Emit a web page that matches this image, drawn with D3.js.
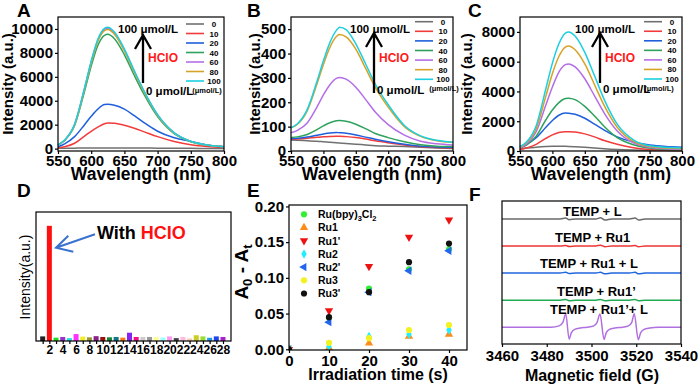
<!DOCTYPE html>
<html>
<head>
<meta charset="utf-8">
<script src="https://cdn.jsdelivr.net/npm/d3@7"></script>
<style>
body { margin: 0; background: #fff; }
svg { display: block; font-family: "Liberation Sans", Arial, sans-serif; }
</style>
</head>
<body>
<svg id="fig" width="700" height="388"></svg>
<script>
// ---------- data ----------
let wavelengths = [550, 560, 575, 590, 600, 610, 620, 625, 635, 650, 665, 680, 700, 725, 750, 775, 800];
let wlTicks = [550, 600, 650, 700, 750, 800];
let concLabels = ["0", "10", "20", "40", "60", "80", "100"];
let concColors = ["#707070", "#f23b3b", "#1f5fdc", "#2ea25c", "#b46ee6", "#d6a227", "#1ccfe0"];

// panel A, one row per HClO concentration
let spectraA = [
    [20, 30, 40, 50, 55, 60, 60, 60, 60, 55, 50, 45, 40, 30, 20, 15, 10],
    [50, 150, 450, 1050, 1450, 1800, 2080, 2150, 2120, 1950, 1700, 1400, 1000, 600, 330, 180, 100],
    [150, 400, 1000, 2000, 2700, 3300, 3680, 3700, 3620, 3300, 2750, 2150, 1450, 900, 600, 300, 150],
    [300, 690, 1930, 4800, 6900, 8620, 9470, 9550, 9180, 7840, 6110, 4490, 2680, 1250, 580, 290, 150],
    [295, 705, 2010, 5030, 7240, 9050, 9950, 10050, 9650, 8240, 6430, 4720, 2810, 1310, 605, 300, 150],
    [290, 700, 1990, 4980, 7160, 8960, 9850, 9950, 9550, 8160, 6370, 4680, 2790, 1290, 600, 300, 150],
    [300, 710, 2030, 5080, 7310, 9140, 10050, 10150, 9740, 8320, 6500, 4770, 2840, 1320, 610, 300, 150]
];
let ticksA = [0, 2000, 4000, 6000, 8000, 10000];

// panel B
let spectraB = [
    [45, 44, 42, 40, 38, 36, 34, 33, 31, 28, 25, 22, 20, 18, 15, 12, 10],
    [48, 49, 52, 56, 58, 60, 61, 61, 59, 55, 49, 42, 34, 25, 18, 14, 12],
    [50, 52, 57, 65, 70, 74, 76, 75, 73, 66, 57, 48, 38, 28, 20, 16, 14],
    [55, 58, 68, 88, 103, 116, 124, 125, 122, 110, 92, 72, 55, 38, 26, 20, 18],
    [75, 85, 115, 180, 230, 272, 298, 302, 295, 262, 212, 160, 108, 65, 40, 30, 25],
    [95, 110, 165, 275, 355, 425, 470, 478, 468, 418, 340, 262, 180, 100, 60, 42, 35],
    [95, 112, 170, 285, 370, 445, 495, 508, 498, 440, 358, 275, 190, 105, 62, 44, 36]
];
let ticksB = [0, 100, 200, 300, 400, 500];

// panel C
let spectraC = [
    [150, 200, 260, 300, 315, 320, 315, 310, 290, 250, 200, 150, 100, 60, 40, 30, 20],
    [100, 200, 450, 850, 1080, 1240, 1300, 1300, 1270, 1150, 950, 700, 450, 220, 100, 50, 30],
    [250, 450, 900, 1600, 2050, 2400, 2550, 2540, 2470, 2200, 1800, 1400, 950, 600, 400, 300, 250],
    [200, 400, 1000, 2100, 2750, 3250, 3530, 3550, 3450, 3000, 2350, 1650, 900, 420, 200, 100, 60],
    [200, 450, 1300, 3100, 4300, 5300, 5800, 5850, 5650, 4850, 3700, 2550, 1350, 550, 250, 150, 100],
    [250, 550, 1500, 3700, 5200, 6350, 6980, 7050, 6800, 5850, 4450, 3050, 1600, 650, 300, 200, 150],
    [300, 600, 1700, 4200, 5900, 7200, 7920, 8000, 7720, 6620, 5050, 3450, 1800, 750, 350, 250, 200]
];
let ticksC = [0, 2000, 4000, 6000, 8000];

// panel D, relative intensity of the 28 analytes (2 = with HClO)
let barValues = [0.04, 1.0, 0.029, 0.035, 0.025, 0.06, 0.038, 0.032, 0.042, 0.035, 0.032, 0.035, 0.029, 0.072,
    0.035, 0.035, 0.035, 0.035, 0.03, 0.04, 0.025, 0.035, 0.022, 0.05, 0.04, 0.028, 0.04, 0.035];
let barColors = ["#222222", "#ff1010", "#22dd22", "#9933cc", "#22ddee", "#ff33ff", "#eeee22", "#999933", "#882288",
    "#991111", "#118833", "#117788", "#ff7711", "#8822ee", "#ee1188", "#cccccc", "#999999", "#ffff99", "#99ffff",
    "#ff99ee", "#444444", "#ffbbdd", "#ffccaa", "#cccc22", "#99dd33", "#2299ee", "#2244ee", "#aa22cc"];
let barTickLabels = [2, 4, 6, 8, 10, 12, 14, 16, 18, 20, 22, 24, 26, 28];

// panel E
let times = [0, 10, 20, 30, 40];
let seriesNames = ["Ru(bpy)3Cl2", "Ru1", "Ru1'", "Ru2", "Ru2'", "Ru3", "Ru3'"];
let ruBpy = [0, 0.044, 0.085, 0.112, 0.140];
let ru1 = [0, 0.002, 0.0085, 0.018, 0.021];
let ru1p = [0, 0.054, 0.116, 0.157, 0.181];
let ru2 = [0, 0.004, 0.018, 0.021, 0.027];
let ru2p = [0, 0.038, 0.080, 0.110, 0.138];
let ru3 = [0, 0.009, 0.0155, 0.027, 0.034];
let ru3p = [0, 0.045, 0.080, 0.122, 0.148];
let seriesColors = ["#33ee33", "#ff8c1a", "#ee1111", "#22eeff", "#2266ee", "#f2f222", "#111111"];
let timeTicks = [0, 10, 20, 30, 40];
let eTicks = [0, 0.05, 0.10, 0.15, 0.20];

// panel F, EPR traces (field in G, amplitude in stack units)
let fieldWeak = [3460, 3486, 3488.5, 3490, 3493, 3502, 3504, 3506, 3509, 3517, 3519.5, 3521, 3524, 3540];
let ampGray = [0, 0, 0.03, -0.03, 0, 0, 0.04, -0.04, 0, 0, 0.03, -0.04, 0, 0];
let ampRed = [0, 0, 0.02, -0.02, 0, 0, 0.03, -0.03, 0, 0, 0.02, -0.03, 0, 0];
let ampBlue = [0, 0, 0.03, -0.02, 0, 0, 0.03, -0.03, 0, 0, 0.03, -0.03, 0, 0];
let ampGreen = [0, 0, 0.02, -0.02, 0, 0, 0.02, -0.02, 0, 0, 0.02, -0.02, 0, 0];
let fieldPurple = [3460, 3482, 3485.5, 3487.2, 3488.5, 3490, 3491, 3492.5, 3495, 3498, 3501, 3502.5, 3503.8, 3505.6,
    3506.6, 3508, 3510.5, 3514, 3516.5, 3518, 3519.1, 3520.9, 3522, 3523.5, 3526, 3530, 3540];
let ampPurple = [0, 0, 0.05, 0.18, 0.49, -0.44, -0.2, -0.08, -0.03, 0, 0.05, 0.18, 0.49, -0.45, -0.2, -0.08, -0.03,
    0, 0.05, 0.18, 0.5, -0.46, -0.2, -0.08, -0.03, 0, 0];
let eprLabels = ["TEMP + L", "TEMP + Ru1", "TEMP + Ru1 + L", "TEMP + Ru1\u2019", "TEMP + Ru1\u2019+ L"];
let eprLevels = [4, 3, 2, 1, 0];
let eprColors = ["#6a6a6a", "#ee3535", "#2266dd", "#22aa55", "#b070e0"];
let fieldTicks = [3460, 3480, 3500, 3520, 3540];

// ---------- drawing ----------
let svg = d3.select("#fig");
let plain = d3.format("d");

function frame(x0, y0, x1, y1) {
    svg.append("rect")
        .attr("x", x0).attr("y", y0)
        .attr("width", x1 - x0).attr("height", y1 - y0)
        .attr("fill", "none").attr("stroke", "#000").attr("stroke-width", 1.2);
}

function styleAxis(g, size) {
    g.select(".domain").remove();
    g.attr("font-family", null).attr("font-size", null);
    g.selectAll("line").attr("stroke", "#000").attr("stroke-width", 1.2);
    g.selectAll("text").attr("font-size", size).attr("font-weight", "bold").attr("fill", "#000");
}

function label(txt, x, y, size, opts) {
    opts = opts || {};
    return svg.append("text")
        .attr("x", x).attr("y", y)
        .attr("font-size", size)
        .attr("font-weight", opts.weight || "bold")
        .attr("fill", opts.color || "#000")
        .attr("text-anchor", opts.anchor || "start")
        .text(txt);
}

function yTitle(txt, x, y, size, weight) {
    svg.append("text")
        .attr("transform", `translate(${x},${y}) rotate(-90)`)
        .attr("text-anchor", "middle")
        .attr("font-size", size).attr("font-weight", weight || "bold")
        .text(txt);
}

function drawSpectra(p) {
    let x = d3.scaleLinear().domain([550, 800]).range([p.left, p.right]);
    let y = d3.scaleLinear().domain(p.yDomain).range([p.bottom, p.top]);
    let line = d3.line()
        .curve(d3.curveMonotoneX)
        .x((d, i) => x(wavelengths[i]))
        .y(d => y(d));

    svg.append("g").selectAll("path")
        .data(p.series)
        .enter()
        .append("path")
        .attr("d", line)
        .attr("fill", "none")
        .attr("stroke", (d, i) => concColors[i])
        .attr("stroke-width", 1.5);

    frame(p.left, p.top, p.right, p.bottom);

    let ax = svg.append("g").attr("transform", `translate(${p.left},0)`)
        .call(d3.axisLeft(y).tickValues(p.yTicks).tickFormat(plain).tickSize(3).tickPadding(2));
    styleAxis(ax, 15);
    let bx = svg.append("g").attr("transform", `translate(0,${p.bottom})`)
        .call(d3.axisBottom(x).tickValues(wlTicks).tickFormat(plain).tickSize(3).tickPadding(1));
    styleAxis(bx, 15);

    label("Wavelength (nm)", (p.left + p.right) / 2, 180, 17.5, { anchor: "middle" });
    yTitle("Intensity (a.u.)", p.yTitleX, (p.top + p.bottom) / 2, 15);
    label(p.letter, p.letterX, 17, 19);

    // legend
    concLabels.forEach((c, i) => {
        let ly = p.legY + i * p.legDy;
        svg.append("line")
            .attr("x1", p.legX0).attr("x2", p.legX0 + 18)
            .attr("y1", ly).attr("y2", ly)
            .attr("stroke", concColors[i]).attr("stroke-width", 1.6);
        label(c, p.legX0 + 28, ly + 3, 8, { anchor: "middle" });
    });
    label("(\u03bcmol/L)", p.unitX, p.legY + 7 * p.legDy + 2, 7.5, { anchor: "middle" });

    // HClO arrow annotation
    label("100 \u03bcmol/L", p.annX, 33, 11.5);
    label("HCIO", p.arrowX + 5, 62, 12, { color: "#ff1a1a" });
    label("0 \u03bcmol/L", p.arrowX + 3, p.zeroY, 11.5);
    svg.append("path")
        .attr("d", `M${p.arrowX},${p.arrowBottom}L${p.arrowX},${p.arrowTip}`
            + `M${p.arrowX - 8},${p.arrowTip + 14}L${p.arrowX},${p.arrowTip}L${p.arrowX + 8},${p.arrowTip + 14}`)
        .attr("fill", "none").attr("stroke", "#000").attr("stroke-width", 2.3);
}

drawSpectra({
    letter: "A", letterX: 17, left: 58, right: 224, top: 17, bottom: 151,
    yDomain: [-200, 11000], yTicks: ticksA, series: spectraA, yTitleX: 13,
    legX0: 186, legY: 24, legDy: 9.5, unitX: 207,
    annX: 118, arrowX: 143, arrowTip: 35, arrowBottom: 83, zeroY: 95
});
drawSpectra({
    letter: "B", letterX: 247, left: 291, right: 453, top: 17, bottom: 151,
    yDomain: [0, 550], yTicks: ticksB, series: spectraB, yTitleX: 260,
    legX0: 415, legY: 21.7, legDy: 9.6, unitX: 444,
    annX: 350, arrowX: 374, arrowTip: 33, arrowBottom: 93, zeroY: 93.5
});
drawSpectra({
    letter: "C", letterX: 468, left: 520, right: 682, top: 17, bottom: 151,
    yDomain: [0, 9000], yTicks: ticksC, series: spectraC, yTitleX: 472,
    legX0: 644, legY: 21.7, legDy: 9.55, unitX: 659,
    annX: 575, arrowX: 600, arrowTip: 33, arrowBottom: 83, zeroY: 92.5
});

// ---- panel D ----
{
    let x = d3.scaleLinear().domain([0, 29.2]).range([36, 231]);
    let y = d3.scaleLinear().domain([0, 1.12]).range([341, 212]);
    svg.append("g").selectAll("rect")
        .data(barValues)
        .enter()
        .append("rect")
        .attr("x", (d, i) => x(i + 1) - 2.5)
        .attr("width", 5)
        .attr("y", d => y(d))
        .attr("height", d => y(0) - y(d))
        .attr("fill", (d, i) => barColors[i]);
    frame(36, 212, 231, 341);
    let bx = svg.append("g").attr("transform", "translate(0,341)")
        .call(d3.axisBottom(x)
            .tickValues(barValues.map((d, i) => i + 1))
            .tickFormat(d => barTickLabels.includes(d) ? d : "")
            .tickSize(3).tickPadding(1));
    styleAxis(bx, 12);
    yTitle("Intensity(a.u.)", 30, 277, 14, "normal");
    label("D", 17, 197, 19);

    let t = label("With ", 97, 238.5, 18);
    t.append("tspan").attr("fill", "#ff1010").text("HCIO");
    svg.append("path")
        .attr("d", "M95,234.3L56,247.7M68.3,235.7L56,247.7L73.3,251.7")
        .attr("fill", "none").attr("stroke", "#3a72d0").attr("stroke-width", 2);
}

// ---- panel E ----
{
    let left = 289, right = 467, top = 205, bottom = 350;
    let x = d3.scaleLinear().domain([0, 44.5]).range([left, right]);
    let y = d3.scaleLinear().domain([-0.001, 0.202]).range([bottom, top]);
    let allSeries = [ruBpy, ru1, ru1p, ru2, ru2p, ru3, ru3p];
    let symbols = [d3.symbolCircle, d3.symbolTriangle, d3.symbolTriangle, d3.symbolDiamond,
        d3.symbolTriangle, d3.symbolCircle, d3.symbolCircle];
    let rotations = [0, 0, 180, 0, -90, 0, 0];
    let sizes = [30, 30, 30, 26, 30, 30, 30];

    svg.append("clipPath").attr("id", "clipE")
        .append("rect").attr("x", left).attr("y", top).attr("width", right - left).attr("height", bottom - top);

    let plot = svg.append("g").attr("clip-path", "url(#clipE)");
    allSeries.forEach((s, k) => {
        plot.append("g").selectAll("path")
            .data(s)
            .enter()
            .append("path")
            .attr("d", d3.symbol().type(symbols[k]).size(sizes[k]))
            .attr("transform", (d, i) => `translate(${x(times[i])},${y(d)}) rotate(${rotations[k]})`)
            .attr("fill", seriesColors[k]);
    });
    frame(left, top, right, bottom);

    let ax = svg.append("g").attr("transform", `translate(${left},0)`)
        .call(d3.axisLeft(y).tickValues(eTicks).tickFormat(d3.format(".2f")).tickSize(3).tickPadding(2));
    styleAxis(ax, 15);
    let bx = svg.append("g").attr("transform", `translate(0,${bottom})`)
        .call(d3.axisBottom(x).tickValues(timeTicks).tickSize(3).tickPadding(2));
    styleAxis(bx, 15);

    // legend
    seriesNames.forEach((n, k) => {
        let ly = 214.3 + k * 13.2;
        svg.append("path")
            .attr("d", d3.symbol().type(symbols[k]).size(sizes[k]))
            .attr("transform", `translate(304,${ly}) rotate(${rotations[k]})`)
            .attr("fill", seriesColors[k]);
        let t = label("", 318, ly + 3.8, 10.5);
        if (n === "Ru(bpy)3Cl2") {
            t.append("tspan").text("Ru(bpy)");
            t.append("tspan").attr("font-size", 7.5).attr("dy", 3).text("3");
            t.append("tspan").attr("dy", -3).text("Cl");
            t.append("tspan").attr("font-size", 7.5).attr("dy", 3).text("2");
        } else {
            t.text(n);
        }
    });

    let yt = svg.append("text")
        .attr("transform", "translate(248,272) rotate(-90)")
        .attr("text-anchor", "middle").attr("font-size", 19).attr("font-weight", "bold");
    yt.append("tspan").text("A");
    yt.append("tspan").attr("font-size", 13).attr("dy", 4).text("0");
    yt.append("tspan").attr("dy", -4).text(" - A");
    yt.append("tspan").attr("font-size", 13).attr("dy", 4).text("t");

    label("Irradiation time (s)", 378, 380, 16, { anchor: "middle" });
    label("E", 247, 197, 19);
}

// ---- panel F ----
{
    let left = 502, right = 681, top = 201, bottom = 344;
    let x = d3.scaleLinear().domain([3460, 3540]).range([left, right]);
    let y = d3.scaleLinear().domain([-0.62, 4.66]).range([bottom, top]);
    let traces = [ampGray, ampRed, ampBlue, ampGreen, ampPurple];
    let fields = [fieldWeak, fieldWeak, fieldWeak, fieldWeak, fieldPurple];

    traces.forEach((amp, k) => {
        let line = d3.line()
            .curve(d3.curveMonotoneX)
            .x((d, i) => x(fields[k][i]))
            .y(d => y(eprLevels[k] + d));
        svg.append("path")
            .attr("d", line(amp))
            .attr("fill", "none")
            .attr("stroke", eprColors[k])
            .attr("stroke-width", 1.5);
    });
    frame(left, top, right, bottom);

    let bx = svg.append("g").attr("transform", `translate(0,${bottom})`)
        .call(d3.axisBottom(x).tickValues(fieldTicks).tickFormat(plain).tickSize(3).tickPadding(3));
    styleAxis(bx, 15);

    let labelX = [563, 555, 540, 557, 550];
    let labelY = [215.6, 242.3, 267.6, 295.6, 313.6];
    eprLabels.forEach((t, k) => label(t, labelX[k], labelY[k], 13));

    label("Magnetic field (G)", 592, 381, 16, { anchor: "middle" });
    label("F", 469, 201, 19);
}
</script>
</body>
</html>
